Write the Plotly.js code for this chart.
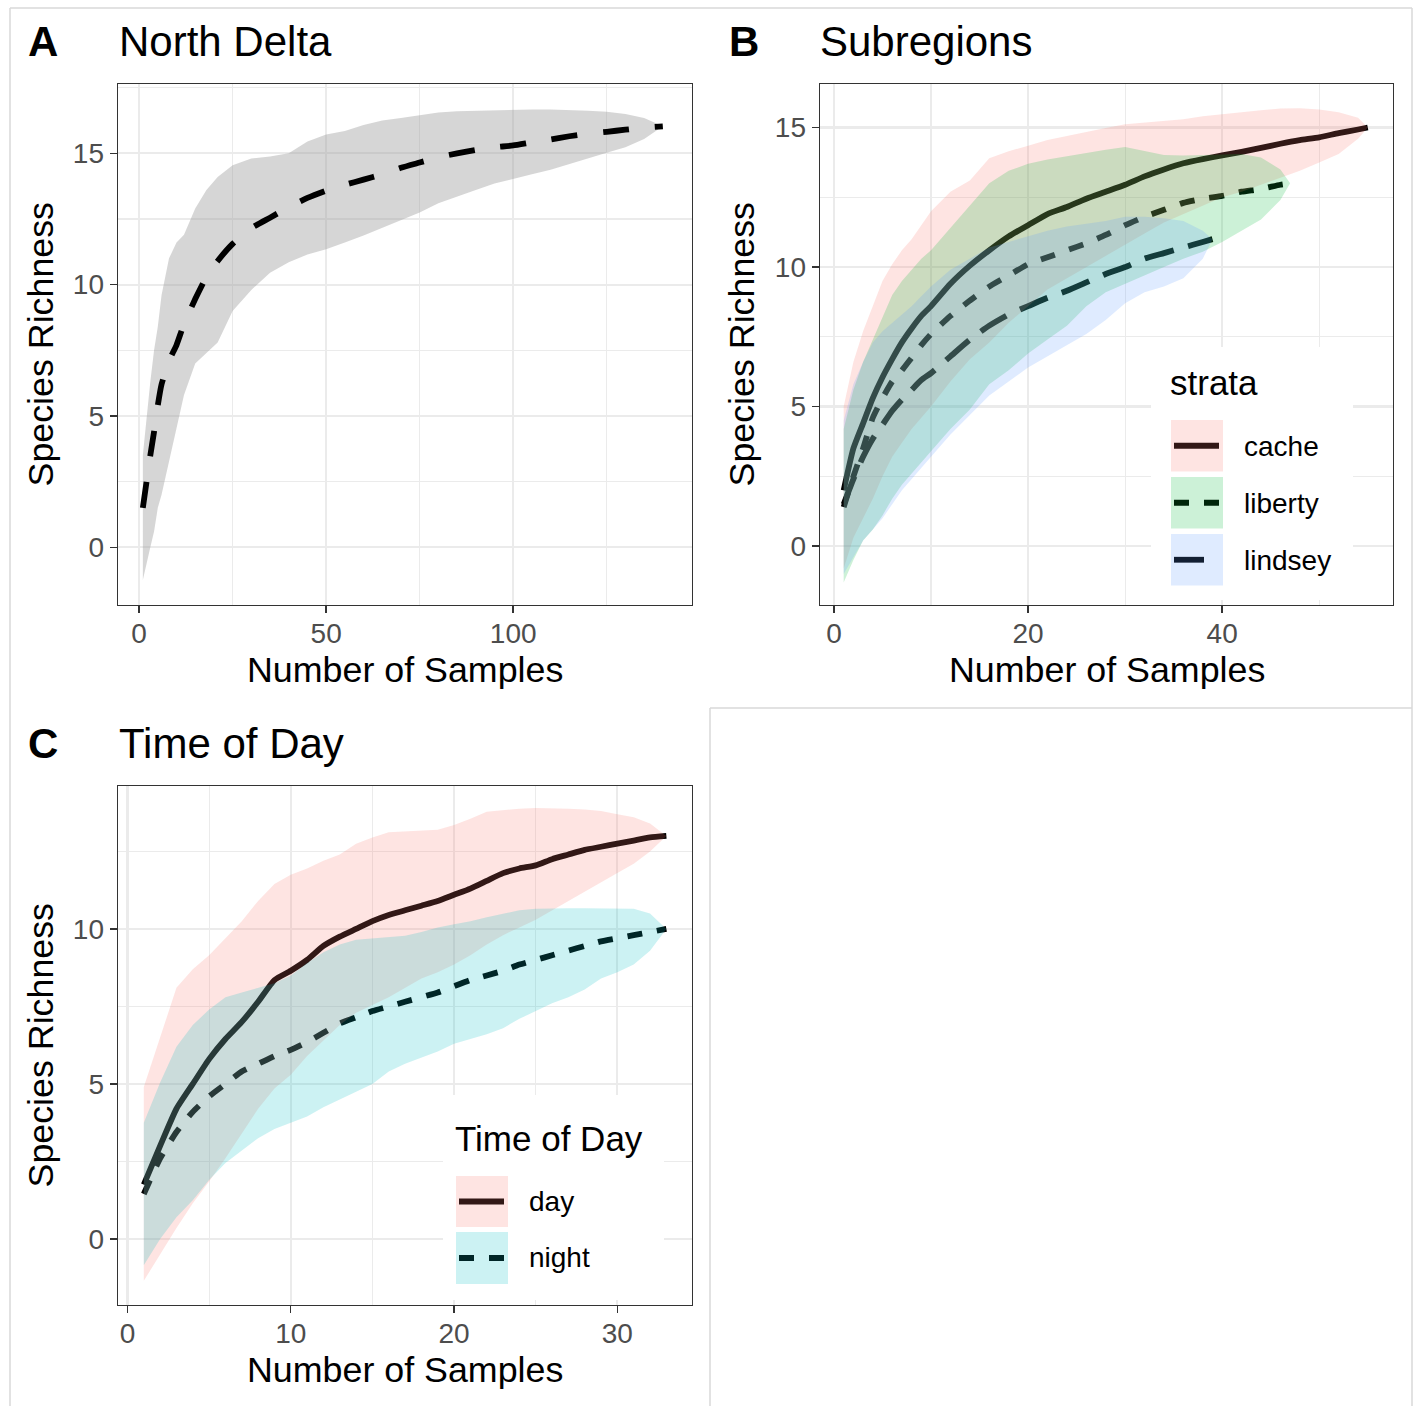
<!DOCTYPE html>
<html>
<head>
<meta charset="utf-8">
<script src="https://cdn.plot.ly/plotly-3.0.1.min.js"></script>
<style>
  html, body { margin: 0; padding: 0; background: #ffffff; }
  #chart { width: 1418px; height: 1406px; }
</style>
</head>
<body>
<div id="chart"></div>
<script>
// ---------- Panel A: North Delta (all samples pooled) ----------
const samplesA = [1,2,3,4,5,6,8,10,12,15,18,21,25,30,35,40,45,50,55,60,65,70,75,80,85,90,95,100,105,110,115,120,125,130,135,140];
const richA    = [1.5,2.5,3.5,4.4,5.4,6.2,7.1,7.7,8.5,9.45,10.3,10.9,11.55,12.15,12.55,12.95,13.3,13.58,13.8,14.0,14.2,14.45,14.65,14.85,15.0,15.13,15.23,15.3,15.42,15.53,15.65,15.75,15.82,15.9,15.98,16.03];
const richA_hi = [3.5,5.0,6.3,7.5,8.4,9.6,11.0,11.6,11.9,12.9,13.6,14.1,14.55,14.8,14.88,15.0,15.45,15.72,15.85,16.08,16.25,16.35,16.45,16.55,16.6,16.62,16.63,16.65,16.67,16.67,16.65,16.62,16.58,16.5,16.35,16.03];
const richA_lo = [-1.25,-0.6,0.0,0.6,1.5,2.0,3.2,4.5,5.8,7.0,7.4,7.8,9.0,9.8,10.45,10.85,11.15,11.35,11.6,11.87,12.15,12.45,12.75,13.1,13.35,13.6,13.85,14.02,14.2,14.37,14.6,14.8,15.02,15.23,15.55,16.03];

// ---------- Panel B: Subregions ----------
const samplesCache = [1,2,3,4,5,6,7,8,9,10,12,14,16,18,20,22,24,26,28,30,32,34,36,38,40,42,44,46,48,50,52,54,55];
const richCache    = [2.0,3.5,4.4,5.3,6.05,6.7,7.3,7.8,8.25,8.6,9.4,10.05,10.6,11.1,11.5,11.9,12.15,12.45,12.7,12.95,13.25,13.5,13.72,13.87,14.0,14.13,14.27,14.42,14.55,14.65,14.8,14.93,15.0];
const cacheHi      = [5.0,6.6,7.7,8.6,9.5,10.1,10.6,11.0,11.5,12.0,12.7,13.1,13.9,14.15,14.35,14.55,14.7,14.85,14.98,15.12,15.18,15.22,15.3,15.4,15.48,15.55,15.62,15.68,15.69,15.65,15.55,15.35,15.0];
const cacheLo      = [-0.8,0.3,1.0,1.7,2.5,3.2,3.7,4.2,4.6,5.0,5.9,6.7,7.3,8.0,8.6,9.2,9.6,10.0,10.4,10.8,11.2,11.6,11.9,12.2,12.5,12.7,12.95,13.2,13.45,13.75,14.05,14.6,15.0];

const samplesLiberty = [1,2,3,4,5,6,7,8,9,10,12,14,16,18,20,22,24,26,28,30,32,34,36,38,40,42,44,46,47];
const richLiberty    = [1.4,2.5,3.5,4.6,5.3,5.9,6.3,6.75,7.2,7.6,8.25,8.8,9.3,9.7,10.1,10.35,10.6,10.85,11.15,11.5,11.8,12.05,12.3,12.45,12.55,12.7,12.8,12.95,13.0];
const libertyHi      = [4.2,5.6,6.6,7.4,8.2,9.0,9.5,9.9,10.3,10.6,11.4,12.2,13.0,13.45,13.7,13.85,13.97,14.08,14.2,14.3,14.15,14.02,14.0,14.02,14.05,14.05,13.93,13.5,13.0];
const libertyLo      = [-1.3,-0.5,0.2,0.6,1.1,1.7,2.2,2.6,3.0,3.4,4.2,4.9,5.8,6.3,6.9,7.4,7.9,8.6,9.1,9.4,9.7,10.0,10.3,10.55,10.9,11.3,11.7,12.4,13.0];

const samplesLindsey = [1,2,3,4,5,6,7,8,9,10,12,14,16,18,20,22,24,26,28,30,32,34,36,38,39];
const richLindsey    = [1.5,2.4,3.2,3.85,4.35,4.85,5.25,5.6,5.95,6.2,6.8,7.4,7.9,8.3,8.6,8.9,9.15,9.45,9.75,10.0,10.3,10.5,10.7,10.9,11.0];
const lindseyHi      = [4.5,5.8,6.6,7.3,7.7,8.0,8.3,8.6,8.95,9.3,9.9,10.3,10.7,10.9,11.1,11.3,11.45,11.55,11.65,11.8,11.8,11.75,11.65,11.3,11.0];
const lindseyLo      = [-1.0,-0.4,0.2,0.6,1.0,1.5,2.0,2.4,2.8,3.2,4.0,4.7,5.4,5.9,6.4,6.8,7.2,7.6,8.1,8.7,9.1,9.3,9.6,10.3,11.0];

// ---------- Panel C: Time of Day ----------
const samplesTod = [1,2,3,4,5,6,7,8,9,10,11,12,13,14,15,16,17,18,19,20,21,22,23,24,25,26,27,28,29,30,31,32,33];
const richDay    = [1.75,3.0,4.2,5.0,5.8,6.45,7.0,7.65,8.35,8.65,9.0,9.45,9.75,10.0,10.25,10.45,10.6,10.75,10.9,11.1,11.3,11.55,11.8,11.95,12.05,12.25,12.4,12.55,12.65,12.75,12.85,12.95,13.0];
const dayHi      = [4.9,6.5,8.1,8.7,9.15,9.7,10.25,10.9,11.45,11.75,11.95,12.2,12.4,12.75,12.95,13.12,13.15,13.17,13.2,13.35,13.55,13.78,13.83,13.88,13.9,13.9,13.88,13.85,13.8,13.7,13.6,13.4,13.0];
const dayLo      = [-1.35,-0.5,0.35,1.15,1.85,2.6,3.4,4.2,4.85,5.3,5.9,6.4,6.9,7.3,7.55,7.8,8.1,8.4,8.6,8.85,9.15,9.5,9.8,10.05,10.3,10.6,10.9,11.2,11.5,11.8,12.1,12.5,13.0];
const richNight  = [1.45,2.6,3.45,4.1,4.6,5.0,5.4,5.65,5.9,6.1,6.35,6.65,6.95,7.15,7.35,7.5,7.65,7.8,7.95,8.15,8.35,8.5,8.65,8.85,9.0,9.15,9.3,9.45,9.6,9.7,9.8,9.9,10.0];
const nightHi    = [3.75,5.05,6.2,6.9,7.4,7.8,7.95,8.1,8.25,8.5,8.9,9.25,9.5,9.65,9.7,9.75,9.78,9.9,10.05,10.15,10.25,10.38,10.5,10.6,10.65,10.67,10.67,10.67,10.67,10.67,10.65,10.5,10.0];
const nightLo    = [-0.85,0.0,0.7,1.25,1.9,2.45,2.85,3.25,3.55,3.75,3.95,4.25,4.5,4.75,5.0,5.4,5.65,5.85,6.05,6.3,6.45,6.6,6.8,7.1,7.35,7.6,7.8,8.05,8.4,8.6,8.85,9.3,10.0];

// Axis tick spacing
const yTickStep = 5;
const yMinorStep = 2.5;

// ---------- geometry (page pixels) ----------
const W = 1418, H = 1406;
const FONT = 'Liberation Sans, Arial, Helvetica, sans-serif';
const fx = px => px / W;
const fy = py => 1 - py / H;

const PANEL_A = { l: 118, r: 692, t: 84, b: 605 };
const PANEL_B = { l: 820, r: 1393, t: 84, b: 605 };
const PANEL_C = { l: 118, r: 692, t: 786, b: 1305 };

const LINE_W = 5.8;
const GRID = '#ebebeb';

function makeAxis(panel, isX, range, dtick, minor, anchor) {
  const ax = {
    domain: isX ? [fx(panel.l), fx(panel.r)] : [fy(panel.b), fy(panel.t)],
    range: range,
    anchor: anchor,
    tick0: 0,
    dtick: dtick,
    showgrid: true,
    gridcolor: GRID,
    gridwidth: 2.2,
    minor: { dtick: minor, tick0: 0, showgrid: true, gridcolor: GRID, gridwidth: 1.1, ticks: '' },
    zeroline: false,
    showline: true,
    mirror: true,
    linecolor: '#333333',
    linewidth: 1.4,
    ticks: 'outside',
    ticklen: 7,
    tickwidth: 1.4,
    tickcolor: '#333333',
    tickfont: { family: FONT, size: 28, color: '#4d4d4d' },
    fixedrange: true
  };
  if (isX) ax.ticklabelstandoff = -4;
  return ax;
}

// closed ribbon polygon between lower and upper bounds
function ribbon(xs, lo, hi, fill, xa, ya) {
  return {
    type: 'scatter', mode: 'lines', xaxis: xa, yaxis: ya,
    x: xs.concat(xs.slice().reverse()),
    y: hi.concat(lo.slice().reverse()),
    fill: 'toself', fillcolor: fill,
    line: { width: 0, color: 'rgba(0,0,0,0)' },
    hoverinfo: 'skip', showlegend: false
  };
}

function curve(xs, ys, dash, xa, ya) {
  return {
    type: 'scatter', mode: 'lines', xaxis: xa, yaxis: ya,
    x: xs, y: ys,
    line: { color: '#000000', width: LINE_W, dash: dash, shape: 'spline', smoothing: 0.5 },
    hoverinfo: 'skip', showlegend: false
  };
}

const PINK  = 'rgba(248,118,109,0.2)';
const GREEN = 'rgba(0,186,56,0.2)';
const BLUE  = 'rgba(97,156,255,0.2)';
const CYAN  = 'rgba(0,191,196,0.2)';
const GREY  = 'rgba(153,153,153,0.4)';

const DASH_A = '26px,26px';
const DASH_SHORT = '15px,15px';
const DASH_LONG = '30px,15px';

const traces = [
  // A
  ribbon(samplesA, richA_lo, richA_hi, GREY, 'x', 'y'),
  curve(samplesA, richA, DASH_A, 'x', 'y'),
  // B: curves underneath translucent ribbons
  curve(samplesCache, richCache, 'solid', 'x2', 'y2'),
  curve(samplesLiberty, richLiberty, DASH_SHORT, 'x2', 'y2'),
  curve(samplesLindsey, richLindsey, DASH_LONG, 'x2', 'y2'),
  ribbon(samplesCache, cacheLo, cacheHi, PINK, 'x2', 'y2'),
  ribbon(samplesLiberty, libertyLo, libertyHi, GREEN, 'x2', 'y2'),
  ribbon(samplesLindsey, lindseyLo, lindseyHi, BLUE, 'x2', 'y2'),
  // C
  curve(samplesTod, richDay, 'solid', 'x3', 'y3'),
  curve(samplesTod, richNight, DASH_SHORT, 'x3', 'y3'),
  ribbon(samplesTod, dayLo, dayHi, PINK, 'x3', 'y3'),
  ribbon(samplesTod, nightLo, nightHi, CYAN, 'x3', 'y3')
];

// ---------- text ----------
function note(text, xpx, ypx, size, opts) {
  return Object.assign({
    text: text, xref: 'paper', yref: 'paper', x: fx(xpx), y: fy(ypx),
    xanchor: 'left', yanchor: 'middle', showarrow: false,
    font: { family: FONT, size: size, color: '#000000' }
  }, opts || {});
}

const AXIS_TITLE = 35.8;

const annotations = [
  note('<b>A</b>', 26, 42, 42),
  note('North Delta', 117, 42, 42),
  note('<b>B</b>', 727, 42, 42),
  note('Subregions', 818, 42, 42),
  note('<b>C</b>', 26, 743, 42),
  note('Time of Day', 117, 743, 42),

  note('Number of Samples', (PANEL_A.l + PANEL_A.r) / 2, 670, AXIS_TITLE, { xanchor: 'center' }),
  note('Number of Samples', (PANEL_B.l + PANEL_B.r) / 2, 670, AXIS_TITLE, { xanchor: 'center' }),
  note('Number of Samples', (PANEL_C.l + PANEL_C.r) / 2, 1370, AXIS_TITLE, { xanchor: 'center' }),
  note('Species Richness', 40, (PANEL_A.t + PANEL_A.b) / 2, AXIS_TITLE, { xanchor: 'center', textangle: -90 }),
  note('Species Richness', 741, (PANEL_B.t + PANEL_B.b) / 2, AXIS_TITLE, { xanchor: 'center', textangle: -90 }),
  note('Species Richness', 40, (PANEL_C.t + PANEL_C.b) / 2, AXIS_TITLE, { xanchor: 'center', textangle: -90 }),

  // legend: strata
  note('strata', 1168, 383, 35),
  note('cache', 1242, 446, 28),
  note('liberty', 1242, 503, 28),
  note('lindsey', 1242, 560, 28),
  // legend: time of day
  note('Time of Day', 453, 1138, 35),
  note('day', 527, 1201, 28),
  note('night', 527, 1257, 28)
];

// ---------- shapes: outer frame, legend boxes and keys ----------
const FRAME = '#d9d9d9';
function seg(x0, y0, x1, y1, color, width, dash) {
  return { type: 'line', xref: 'paper', yref: 'paper', x0: fx(x0), y0: fy(y0), x1: fx(x1), y1: fy(y1),
           line: { color: color, width: width, dash: dash || 'solid' }, layer: 'above' };
}
function box(x0, y0, x1, y1, fill) {
  return { type: 'rect', xref: 'paper', yref: 'paper', x0: fx(x0), y0: fy(y0), x1: fx(x1), y1: fy(y1),
           fillcolor: fill, line: { width: 0 }, layer: 'above' };
}
function key(x0, y0, x1, y1, fill, dash) {
  const ym = (y0 + y1) / 2;
  return [seg(x0 + 3, ym, x1 - 4, ym, '#000000', LINE_W, dash), box(x0, y0, x1, y1, fill)];
}

const shapes = [
  seg(10, 8, 1412, 8, FRAME, 1.5),
  seg(10, 8, 10, 1406, FRAME, 1.5),
  seg(1412, 8, 1412, 1406, FRAME, 1.5),
  seg(710, 708, 1412, 708, FRAME, 1.5),
  seg(710, 708, 710, 1406, FRAME, 1.5),

  box(1151, 347, 1353, 600, '#ffffff'),
  ...key(1171, 420, 1223, 471.5, PINK, 'solid'),
  ...key(1171, 477, 1223, 528.5, GREEN, DASH_SHORT),
  ...key(1171, 534, 1223, 585.5, BLUE, DASH_LONG),

  box(443, 1095, 664, 1300, '#ffffff'),
  ...key(456, 1176, 508, 1227, PINK, 'solid'),
  ...key(456, 1232, 508, 1284, CYAN, DASH_SHORT)
];

const layout = {
  width: W, height: H,
  margin: { l: 0, r: 0, t: 0, b: 0 },
  paper_bgcolor: '#ffffff',
  plot_bgcolor: '#ffffff',
  showlegend: false,
  font: { family: FONT },
  xaxis:  makeAxis(PANEL_A, true,  [-5.64, 147.8], 50, 25, 'y'),
  yaxis:  makeAxis(PANEL_A, false, [-2.2, 17.64], yTickStep, yMinorStep, 'x'),
  xaxis2: makeAxis(PANEL_B, true,  [-1.44, 57.6], 20, 10, 'y2'),
  yaxis2: makeAxis(PANEL_B, false, [-2.11, 16.56], yTickStep, yMinorStep, 'x2'),
  xaxis3: makeAxis(PANEL_C, true,  [-0.58, 34.57], 10, 5, 'y3'),
  yaxis3: makeAxis(PANEL_C, false, [-2.13, 14.61], yTickStep, yMinorStep, 'x3'),
  annotations: annotations,
  shapes: shapes
};

Plotly.newPlot('chart', traces, layout, { staticPlot: true, displayModeBar: false });
</script>
</body>
</html>
